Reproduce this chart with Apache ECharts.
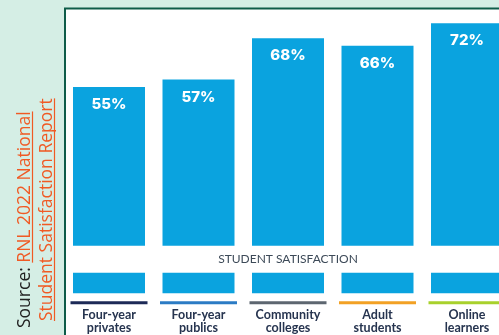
<!DOCTYPE html>
<html>
<head>
<meta charset="utf-8">
<script src="https://cdn.jsdelivr.net/npm/echarts@6/dist/echarts.min.js"></script>
<style>
html,body{margin:0;padding:0;background:#d5eee5;}
#c{width:499px;height:335px;}
</style>
</head>
<body>
<div id="c"></div>
<script>
// ---- data ----
const categories = ['Four-year\nprivates', 'Four-year\npublics', 'Community\ncolleges', 'Adult\nstudents', 'Online\nlearners'];
const values = [55, 57, 68, 66, 72];
const lineColors = ['#1d2a57', '#2b7bc4', '#5d6670', '#f2a124', '#a8d12c'];
const bandRange = [5.5, 12.7];
const bandTitle = 'STUDENT SATISFACTION';
const sourceLabel = 'Source: ';
const sourceLine1 = 'RNL 2022 National';
const sourceLine2 = 'Student Satisfaction Report';

const chart = echarts.init(document.getElementById('c'), null, {renderer: 'canvas'});

const rich = {
  g: {height: 4, lineHeight: 4},
  t: {fontFamily: 'Lato', fontWeight: 'bold', fontSize: 12.5, color: '#26344f', lineHeight: 13, align: 'center'}
};
lineColors.forEach((c, i) => {
  rich['c' + i] = {width: 77, height: 3, lineHeight: 3, backgroundColor: c, align: 'center'};
});

chart.setOption({
  animation: false,
  backgroundColor: '#d5eee5',
  grid: {left: 64.25, top: 0.75, width: 447.5, height: 292.5, outerBoundsMode: 'none', containLabel: false},
  xAxis: {
    type: 'category',
    data: categories,
    axisLine: {show: false},
    axisTick: {show: false},
    axisLabel: {
      interval: 0,
      margin: 8,
      formatter: (val, idx) => '{c' + idx + '|}\n{g|}\n' + val.split('\n').map(s => '{t|' + s + '}').join('\n'),
      rich: rich
    }
  },
  yAxis: {
    type: 'value', min: 0, max: 78,
    axisLine: {show: false}, axisTick: {show: false},
    axisLabel: {show: false}, splitLine: {show: false}
  },
  series: [{
    type: 'bar',
    data: values,
    barWidth: 72,
    itemStyle: {color: '#0aa3df'},
    label: {
      show: true, position: 'insideTop', distance: 10,
      formatter: '{c}%',
      fontFamily: 'Inter', fontWeight: 800, fontSize: 15, color: '#ffffff'
    }
  }]
});

// measure text for underlines
const srcSize = 17.5;
const ctx = document.createElement('canvas').getContext('2d');
ctx.font = srcSize + 'px "Open Sans"';
const wLabel = ctx.measureText(sourceLabel).width;
const w1 = ctx.measureText(sourceLine1).width;
const w2 = ctx.measureText(sourceLine2).width;

const yTop = chart.convertToPixel({yAxisIndex: 0}, bandRange[1]);
const yBot = chart.convertToPixel({yAxisIndex: 0}, bandRange[0]);
const xMid = chart.convertToPixel({xAxisIndex: 0}, 2);

const s1y = 328, s2y = 321;
chart.setOption({
  graphic: [
    {type: 'rect', z: -5, shape: {x: 65, y: 8.5, width: 500, height: 400},
     style: {fill: '#ffffff', stroke: '#0e5c49', lineWidth: 2}},
    {type: 'rect', z: 50, shape: {x: 66, y: yTop, width: 450, height: yBot - yTop},
     style: {fill: '#ffffff'}},
    {type: 'text', z: 51, x: xMid, y: (yTop + yBot) / 2,
     style: {text: bandTitle, font: '12px Lato', fill: '#3d4a58', align: 'center', verticalAlign: 'middle'}},
    {type: 'text', z: 51, x: 25.5, y: s1y, rotation: Math.PI / 2,
     style: {text: '{a|' + sourceLabel + '}{b|' + sourceLine1 + '}', align: 'left', verticalAlign: 'middle',
       rich: {a: {fontFamily: 'Open Sans', fontSize: srcSize, fill: '#222222'}, b: {fontFamily: 'Open Sans', fontSize: srcSize, fill: '#f05a24'}}}},
    {type: 'text', z: 51, x: 47.5, y: s2y, rotation: Math.PI / 2,
     style: {text: sourceLine2, fontFamily: 'Open Sans', fontSize: srcSize, fill: '#f05a24', align: 'left', verticalAlign: 'middle'}},
    {type: 'line', z: 51, shape: {x1: 32.5, y1: s1y - wLabel, x2: 32.5, y2: s1y - wLabel - w1},
     style: {stroke: '#f05a24', lineWidth: 1.2}},
    {type: 'line', z: 51, shape: {x1: 54.5, y1: s2y, x2: 54.5, y2: s2y - w2},
     style: {stroke: '#f05a24', lineWidth: 1.2}}
  ]
});
</script>
</body>
</html>
